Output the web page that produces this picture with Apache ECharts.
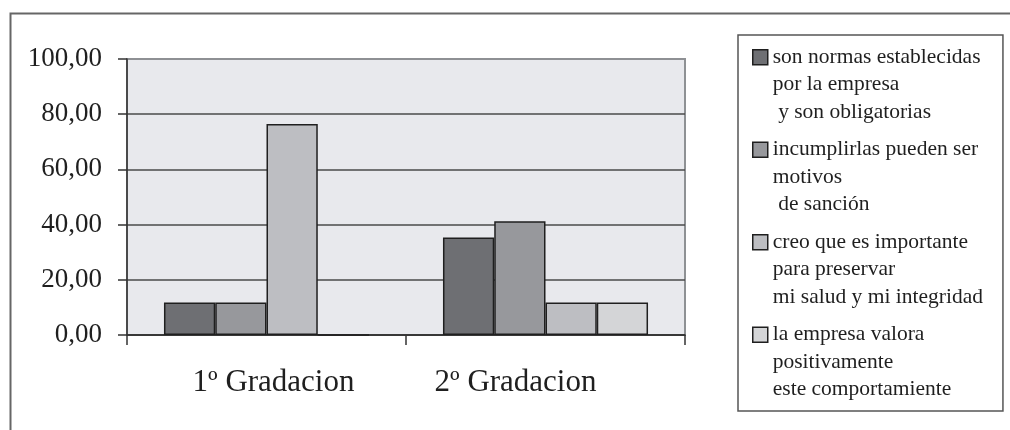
<!DOCTYPE html>
<html>
<head>
<meta charset="utf-8">
<script src="https://cdn.jsdelivr.net/npm/echarts@6/dist/echarts.min.js"></script>
<style>
  html, body { margin: 0; padding: 0; background: #ffffff; }
  #chart { width: 1010px; height: 430px; }
</style>
</head>
<body>
<div id="chart"></div>
<script>
// Categories along the x axis
const categories = ['1º Gradacion', '2º Gradacion'];

// Legend texts (one per series)
const seriesNames = [
  'son normas establecidas\npor la empresa\n y son obligatorias',
  'incumplirlas pueden ser\nmotivos\n de sanción',
  'creo que es importante\npara preservar\nmi salud y mi integridad',
  'la empresa valora\npositivamente\neste comportamiente'
];

// Percentages per category, one array per series
const normasObligatorias = [11.76, 35.29];
const motivosSancion = [11.76, 41.18];
const preservarSalud = [76.47, 11.76];
const empresaValora = [0, 11.76];

// Y axis ticks
const yTicks = [0, 20, 40, 60, 80, 100];

const seriesValues = [normasObligatorias, motivosSancion, preservarSalud, empresaValora];
const barColors = ['#6e6f73', '#97989c', '#bdbec2', '#d4d5d7'];

const serif = 'Liberation Serif';
const ink = '#1f1f1f';

const chart = echarts.init(document.getElementById('chart'), null, { renderer: 'canvas' });

chart.setOption({
  animation: false,
  backgroundColor: '#ffffff',
  graphic: [{
    type: 'rect',
    left: 8, top: 11,
    shape: { width: 1100, height: 500 },
    style: { fill: 'none', stroke: '#666666', lineWidth: 2 },
    silent: true
  }],
  grid: {
    left: 127, top: 59, right: 325, bottom: 95,
    show: true,
    backgroundColor: '#e8e9ed',
    borderColor: '#8e9194',
    borderWidth: 2
  },
  legend: {
    orient: 'vertical',
    left: 738, top: 35,
    padding: [8, 20, 7, 14],
    borderColor: '#555555',
    borderWidth: 1.5,
    itemWidth: 15,
    itemHeight: 82,
    itemGap: 9,
    // small square beside the first text line; the bare moves set the item box size
    icon: 'path://M0,0M0,6h15v15h-15zM15,82',
    itemStyle: { borderColor: ink, borderWidth: 1.5 },
    textStyle: { fontFamily: serif, fontSize: 21.5, lineHeight: 27.4, color: ink },
    selectedMode: false,
    data: seriesNames
  },
  xAxis: {
    type: 'category',
    data: categories,
    axisLine: { show: true, lineStyle: { color: '#333333', width: 1.5 } },
    axisTick: { show: true, length: 10, lineStyle: { color: '#333333', width: 1.5 } },
    axisLabel: {
      fontFamily: serif, fontSize: 31, color: ink, margin: 32,
      formatter: (v, i) => (i === 0 ? '{a|' + v + '}' : '{b|' + v + '}'),
      rich: {
        a: { fontFamily: serif, fontSize: 31, color: ink, padding: [0, 0, 0, 14] },
        b: { fontFamily: serif, fontSize: 31, color: ink, padding: [0, 60, 0, 0] }
      }
    },
    splitLine: { show: false }
  },
  yAxis: {
    type: 'value',
    min: yTicks[0],
    max: yTicks[yTicks.length - 1],
    interval: yTicks[1] - yTicks[0],
    axisLine: { show: true, lineStyle: { color: '#333333', width: 1.5 } },
    axisTick: { show: true, length: 9, lineStyle: { color: '#333333', width: 1.5 } },
    axisLabel: {
      fontFamily: serif, fontSize: 27, color: ink, margin: 25,
      formatter: v => v.toFixed(2).replace('.', ',')
    },
    splitLine: {
      show: true,
      lineStyle: {
        color: ['#333333', '#4a4a4a', '#4a4a4a', '#4a4a4a', '#4a4a4a', '#8e9194'],
        width: 1.5
      }
    }
  },
  series: seriesValues.map((vals, i) => ({
    name: seriesNames[i],
    type: 'bar',
    data: vals,
    barGap: '0%',
    barCategoryGap: '26.5%',
    itemStyle: { color: barColors[i], borderColor: ink, borderWidth: 1.5 }
  }))
});
</script>
</body>
</html>
